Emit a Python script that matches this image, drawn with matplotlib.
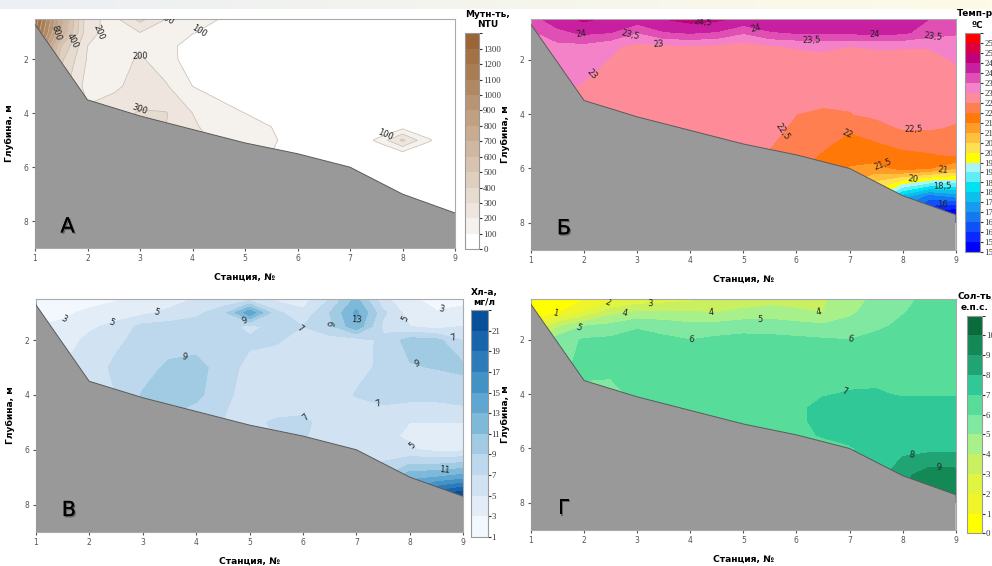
import numpy as np
import matplotlib
matplotlib.use("Agg")
import matplotlib.pyplot as plt
import matplotlib.patheffects as pe
from matplotlib.colors import ListedColormap, BoundaryNorm, LinearSegmentedColormap
from matplotlib.cm import ScalarMappable

# section grid: stations along x, depth (m) down
stations = [1, 1.5, 2, 2.5, 3, 3.5, 4, 4.5, 5, 5.5, 6, 6.5, 7, 7.5, 8, 8.5, 9]
depths = [0.5, 1, 1.5, 2, 3, 4, 4.5, 5, 5.5, 6, 7, 8]

# sea floor
bottom_station = [1, 2, 3, 4, 5, 6, 7, 8, 9]
bottom_depth = [0.7, 3.5, 4.1, 4.6, 5.1, 5.5, 6.0, 7.0, 7.7]

# turbidity, NTU (one row per depth)
turb_by_depth = [
    [1380, 750, 230, 170, 330, 200, 130, 100, 60, 40, 30, 30, 30, 30, 30, 30, 30],
    [1300, 700, 230, 160, 200, 180, 105, 70, 40, 30, 30, 30, 30, 30, 30, 30, 30],
    [1200, 500, 200, 150, 160, 130, 60, 40, 30, 30, 30, 30, 30, 30, 30, 30, 30],
    [1100, 420, 190, 150, 215, 140, 50, 35, 30, 30, 30, 30, 30, 30, 30, 30, 30],
    [1000, 350, 160, 180, 240, 210, 100, 60, 40, 30, 30, 30, 30, 30, 30, 30, 30],
    [900, 300, 220, 260, 310, 305, 200, 140, 100, 60, 40, 30, 30, 30, 30, 30, 30],
    [900, 300, 230, 270, 300, 300, 210, 170, 130, 100, 60, 40, 30, 30, 60, 30, 30],
    [900, 300, 230, 270, 300, 280, 220, 190, 150, 110, 70, 30, 20, 110, 320, 110, 20],
    [900, 300, 230, 270, 300, 280, 220, 190, 140, 100, 80, 30, 20, 30, 60, 30, 20],
    [900, 300, 230, 270, 300, 280, 220, 190, 140, 100, 70, 30, 20, 20, 30, 20, 20],
    [900, 300, 230, 270, 300, 280, 220, 190, 140, 100, 70, 30, 20, 20, 30, 20, 20],
    [900, 300, 230, 270, 300, 280, 220, 190, 140, 100, 70, 30, 20, 20, 30, 20, 20],
]

# temperature, deg C (one profile per station)
temp_by_station = [
    [23.8, 23.4, 23.2, 23.1, 23.0, 23.0, 23.0, 23.0, 23.0, 23.0, 23.0, 23.0],
    [24.3, 23.85, 23.35, 23.25, 23.1, 23.1, 23.1, 23.1, 23.1, 23.1, 23.1, 23.1],
    [24.6, 24.1, 23.35, 23.2, 22.95, 22.9, 22.9, 22.9, 22.9, 22.9, 22.9, 22.9],
    [24.4, 24.0, 23.1, 22.97, 22.85, 22.8, 22.8, 22.8, 22.8, 22.8, 22.8, 22.8],
    [24.3, 23.5, 22.85, 22.8, 22.75, 22.7, 22.7, 22.7, 22.7, 22.7, 22.7, 22.7],
    [24.5, 23.95, 22.9, 22.8, 22.75, 22.7, 22.7, 22.7, 22.7, 22.7, 22.7, 22.7],
    [24.7, 24.05, 22.95, 22.8, 22.75, 22.7, 22.7, 22.7, 22.7, 22.7, 22.7, 22.7],
    [24.6, 23.95, 22.9, 22.8, 22.75, 22.7, 22.7, 22.7, 22.7, 22.7, 22.7, 22.7],
    [24.4, 23.55, 22.75, 22.75, 22.7, 22.7, 22.7, 22.65, 22.6, 22.6, 22.6, 22.6],
    [24.4, 23.95, 22.95, 22.8, 22.75, 22.7, 22.65, 22.55, 22.45, 22.4, 22.4, 22.4],
    [24.4, 24.05, 23.05, 22.8, 22.7, 22.5, 22.4, 22.3, 22.2, 22.1, 22.0, 22.0],
    [24.4, 24.1, 23.1, 22.85, 22.65, 22.45, 22.3, 22.1, 21.95, 21.8, 21.5, 21.3],
    [24.4, 24.1, 23.0, 22.85, 22.65, 22.48, 22.05, 21.9, 21.7, 21.45, 20.5, 20.0],
    [24.4, 24.15, 23.05, 22.85, 22.65, 22.6, 22.3, 22.0, 21.75, 21.3, 19.5, 18.0],
    [24.4, 24.1, 23.05, 22.8, 22.65, 22.6, 22.55, 22.15, 21.9, 21.65, 17.8, 16.0],
    [24.0, 23.75, 23.05, 22.8, 22.65, 22.6, 22.55, 22.25, 21.95, 21.5, 16.8, 14.5],
    [23.8, 23.55, 23.25, 23.05, 22.75, 22.6, 22.45, 22.2, 22.05, 21.0, 17.2, 13.6],
]

# chlorophyll a, mg/l (one row per depth)
chl_by_depth = [
    [1.5, 1.8, 2.0, 2.8, 3.5, 4.0, 5.2, 5.8, 6.0, 4.5, 4.0, 7.0, 11.5, 5.5, 3.5, 2.0, 2.5],
    [2.0, 2.5, 3.5, 4.0, 4.5, 5.5, 6.5, 8.0, 14.5, 7.5, 5.5, 9.0, 13.5, 7.5, 4.0, 3.2, 3.5],
    [3.0, 3.5, 4.6, 5.6, 7.6, 7.8, 8.0, 7.8, 6.5, 7.5, 7.0, 8.5, 12.5, 6.5, 5.0, 4.0, 5.0],
    [4.0, 4.0, 5.5, 6.5, 7.8, 7.8, 7.8, 7.8, 7.3, 7.2, 6.3, 6.2, 6.0, 7.5, 9.8, 9.6, 6.8],
    [5.0, 5.0, 5.8, 7.5, 8.0, 9.5, 10.0, 7.8, 6.5, 6.0, 5.8, 6.0, 6.2, 7.5, 8.8, 9.1, 9.5],
    [5.0, 5.0, 5.5, 7.0, 9.2, 10.0, 9.6, 7.5, 6.2, 5.8, 5.5, 5.5, 7.2, 7.5, 7.5, 7.5, 7.6],
    [5.0, 5.0, 5.5, 7.0, 9.0, 9.5, 8.5, 7.2, 6.0, 6.3, 6.5, 5.5, 6.0, 6.8, 6.5, 6.5, 6.8],
    [5.0, 5.0, 5.5, 7.0, 9.0, 9.0, 8.0, 7.0, 6.5, 7.3, 7.5, 6.0, 5.5, 5.5, 5.0, 5.0, 5.0],
    [5.0, 5.0, 5.5, 7.0, 9.0, 9.0, 8.0, 7.0, 6.5, 7.0, 7.2, 6.0, 5.5, 5.3, 4.8, 4.2, 4.2],
    [5.0, 5.0, 5.5, 7.0, 9.0, 9.0, 8.0, 7.0, 6.5, 7.0, 7.0, 6.0, 6.0, 5.5, 5.2, 4.5, 4.6],
    [5.0, 5.0, 5.5, 7.0, 9.0, 9.0, 8.0, 7.0, 6.5, 7.0, 7.0, 6.5, 7.0, 9.0, 12.5, 13.0, 14.0],
    [5.0, 5.0, 5.5, 7.0, 9.0, 9.0, 8.0, 7.0, 6.5, 7.0, 7.0, 7.0, 8.0, 12.0, 18.0, 25.0, 28.0],
]

# salinity, psu (one profile per station)
sal_by_station = [
    [0.3, 0.5, 1.5, 3.0, 4.0, 5.0, 5.0, 5.0, 5.0, 5.0, 5.0, 5.0],
    [0.4, 0.9, 3.8, 5.5, 5.8, 5.8, 5.8, 5.8, 5.8, 5.8, 5.8, 5.8],
    [0.95, 2.2, 5.0, 6.1, 6.2, 5.8, 5.8, 5.8, 5.8, 5.8, 5.8, 5.8],
    [1.6, 3.6, 5.3, 6.2, 6.3, 5.6, 5.6, 5.6, 5.6, 5.6, 5.6, 5.6],
    [2.2, 4.2, 5.9, 6.3, 6.4, 6.3, 6.3, 6.3, 6.3, 6.3, 6.3, 6.3],
    [2.5, 4.2, 5.6, 6.2, 6.5, 6.5, 6.5, 6.5, 6.5, 6.5, 6.5, 6.5],
    [2.8, 4.1, 5.3, 6.0, 6.5, 6.6, 6.6, 6.6, 6.6, 6.6, 6.6, 6.6],
    [3.0, 4.0, 5.4, 6.2, 6.5, 6.6, 6.6, 6.6, 6.6, 6.6, 6.6, 6.6],
    [3.3, 4.3, 5.6, 6.3, 6.5, 6.6, 6.6, 6.6, 6.6, 6.6, 6.6, 6.6],
    [3.5, 4.5, 5.5, 6.3, 6.5, 6.7, 6.7, 6.7, 6.7, 6.7, 6.7, 6.7],
    [3.6, 4.2, 5.4, 6.2, 6.5, 6.8, 6.85, 6.85, 6.85, 6.85, 6.85, 6.85],
    [3.9, 4.0, 5.2, 6.1, 6.6, 6.95, 7.2, 7.2, 7.05, 6.8, 6.8, 6.8],
    [4.4, 4.8, 5.4, 6.0, 6.7, 7.05, 7.3, 7.4, 7.3, 6.9, 6.9, 6.9],
    [5.3, 5.5, 5.8, 6.3, 6.8, 7.05, 7.3, 7.4, 7.5, 7.4, 7.6, 7.6],
    [5.8, 5.95, 6.2, 6.5, 6.8, 6.95, 7.2, 7.4, 7.5, 7.7, 8.7, 9.0],
    [6.2, 6.3, 6.4, 6.6, 6.8, 6.95, 7.2, 7.4, 7.6, 7.7, 9.6, 9.8],
    [6.3, 6.4, 6.5, 6.6, 6.8, 6.95, 7.2, 7.4, 7.6, 7.7, 9.5, 9.9],
]

turb_levels = list(range(0, 1401, 100))
temp_levels = [15, 15.5, 16, 16.5, 17, 17.5, 18, 18.5, 19, 19.5, 20, 20.5, 21,
               21.5, 22, 22.5, 23, 23.5, 24, 24.5, 25, 25.5, 26]
chl_levels = list(range(1, 24, 2))
sal_levels = list(range(0, 12))

# contour labels: (level, station, depth)
turb_marks = [(800, 1.38, 1.0), (400, 1.7, 1.3), (200, 2.2, 1.0), (200, 3.6, 0.77),
              (100, 4.1, 0.9), (200, 3.0, 1.85), (300, 3.0, 3.8), (100, 7.67, 4.78)]
temp_marks = [(24, 1.95, 1.08), (23.5, 2.83, 0.83), (24.5, 4.25, 0.71), (24, 5.25, 0.75),
              (23.5, 6.29, 1.2), (24, 7.48, 0.98), (23.5, 8.58, 1.2), (23, 3.4, 1.33),
              (23, 2.08, 2.43), (22.5, 5.79, 4.69), (22, 6.95, 4.7), (22.5, 8.2, 4.67),
              (21.5, 7.67, 5.68), (21, 8.77, 6.1), (20, 8.2, 6.4), (18.5, 8.74, 6.6),
              (16, 8.74, 7.2)]
chl_marks = [(3, 1.58, 1.39), (5, 2.42, 1.39), (5, 3.26, 1.03), (9, 4.91, 1.29),
             (7, 5.92, 1.54), (9, 6.52, 1.43), (13, 6.99, 1.27), (5, 7.78, 1.33),
             (3, 8.6, 0.9), (7, 8.75, 2.25), (9, 3.81, 2.77), (9, 8.13, 2.9),
             (7, 7.38, 4.5), (7, 5.97, 4.98), (5, 8.25, 5.5), (11, 8.66, 6.83)]
sal_marks = [(1, 1.45, 1.02), (2, 2.46, 0.74), (3, 3.25, 0.75), (4, 2.76, 1.02),
             (4, 4.39, 1.05), (4, 6.41, 1.05), (5, 1.92, 1.63), (5, 5.31, 1.24),
             (6, 4.03, 2.04), (6, 7.02, 2.02), (7, 6.92, 4.0), (8, 8.16, 6.23),
             (9, 8.69, 6.79)]

# colours
brown = LinearSegmentedColormap.from_list("br", ["#f5f2ed", "#9b6535"])
turb_colors = ["#ffffff"] + [brown(v) for v in np.linspace(0, 1, 13)]
temp_colors = ["#0000ff", "#0a28ff", "#0f50f8", "#1478f0", "#169cee", "#0cc0ee",
               "#00e2f2", "#60eef6", "#a8f6fa", "#ffff00", "#ffe050", "#ffc03c",
               "#ff9c28", "#ff7808", "#ff7f50", "#fe8c98", "#f482c8", "#e04fb4",
               "#c81ea0", "#c0007a", "#dc0040", "#ff0000"]
chl_colors = [plt.cm.Blues(v) for v in np.linspace(0.02, 0.88, 11)]
sal_colors = ["#ffff00", "#f0f52a", "#e0f540", "#c8f060", "#a8f08a", "#80e8a0",
              "#58dc9a", "#30c896", "#20a474", "#138a55", "#0b6b3c"]


def comma(v):
    return f"{v:g}".replace(".", ",")


def plain(v):
    return f"{v:g}"


W, H = 992, 566
fig = plt.figure(figsize=(W / 100, H / 100), dpi=100)

# faint band along the top edge of the screenshot
hdr = fig.add_axes([0, 1 - 9 / H, 1, 9 / H])
hdr.imshow(np.linspace(0, 1, 256).reshape(1, -1), aspect="auto",
           cmap=LinearSegmentedColormap.from_list("hd", ["#eceff4", "#fdfbe7"]))
hdr.axis("off")


def px_axes(x0, y0, x1, y1):
    return fig.add_axes([x0 / W, 1 - y1 / H, (x1 - x0) / W, (y1 - y0) / H])


def section(ax, cax, Z, levels, colors, marks, fmt, letter, line_color=None):
    X, Y = np.meshgrid(stations, depths)
    ax.contourf(X, Y, Z, levels=levels, colors=[colors[0]] + colors + [colors[-1]],
                extend="both", zorder=1)
    if line_color:
        ax.contour(X, Y, Z, levels=levels, colors=line_color, linewidths=0.5, zorder=1.5)
    # labels: one invisible contour set per labelled level
    for lev in sorted(set(m[0] for m in marks)):
        pts = [(m[1], m[2]) for m in marks if m[0] == lev]
        cs = ax.contour(X, Y, Z, levels=[lev], colors="none", linewidths=0, zorder=1.6)
        ax.clabel(cs, manual=pts, fmt=fmt, fontsize=6, colors="#222222",
                  inline=True, inline_spacing=2)

    ax.fill_between(bottom_station, bottom_depth, 9.5, facecolor="#999999",
                    edgecolor="none", zorder=4)
    ax.plot(bottom_station, bottom_depth, color="#5a5a5a", lw=0.7, zorder=4.1)

    ax.set_xlim(1, 9)
    ax.set_ylim(9, 0.5)
    ax.set_xticks(range(1, 10))
    ax.set_yticks([2, 4, 6, 8])
    ax.tick_params(labelsize=5.5, length=2.5, pad=2, colors="#555555")
    for s in ax.spines.values():
        s.set_color("#aaaaaa")
        s.set_linewidth(0.8)
    ax.set_xlabel("Станция, №", fontsize=6.6, fontweight="bold", labelpad=7)
    ax.set_ylabel("Глубина, м", fontsize=6.6, fontweight="bold", labelpad=7)
    ax.text(1.62, 8.2, letter, fontsize=15, ha="center", va="center", zorder=6,
            path_effects=[pe.withSimplePatchShadow(offset=(1, -1), alpha=0.35),
                          pe.Normal()])

    sm = ScalarMappable(norm=BoundaryNorm(levels, len(colors)), cmap=ListedColormap(colors))
    cb = fig.colorbar(sm, cax=cax, ticks=levels[:-1])
    cb.ax.set_yticklabels([fmt(v) for v in levels[:-1]], fontfamily="Liberation Serif")
    cb.ax.tick_params(labelsize=6.3, length=2, pad=1, colors="#333333")
    cb.outline.set_edgecolor("#999999")
    cb.outline.set_linewidth(0.8)


def title(x, y, s, ha="center"):
    fig.text(x / W, 1 - y / H, s, fontsize=6.5, fontweight="bold", ha=ha, va="center",
             linespacing=1.05)


# А - turbidity
axA = px_axes(35, 19, 455, 248)
caxA = px_axes(464.5, 33.3, 479, 249.3)
section(axA, caxA, np.array(turb_by_depth), turb_levels, turb_colors, turb_marks,
        plain, "А", line_color="#c9bfb5")
title(488, 19.5, "Мутн-ть,\nNTU")

# Б - temperature
axB = px_axes(531, 19, 955.7, 250)
caxB = px_axes(965, 33.3, 980, 252)
section(axB, caxB, np.array(temp_by_station).T, temp_levels, temp_colors, temp_marks,
        comma, "Б")
title(957, 14, "Темп-ра", ha="left")
title(977, 25, "ºC")

# В - chlorophyll
axC = px_axes(35.7, 299, 463.3, 532)
caxC = px_axes(471, 310, 487.5, 537)
section(axC, caxC, np.array(chl_by_depth), chl_levels, chl_colors, chl_marks, plain, "В")
title(484, 297, "Хл-а,\nмг/л")

# Г - salinity
axD = px_axes(531, 299, 955.7, 530)
caxD = px_axes(967.3, 315.7, 981.7, 533.3)
section(axD, caxD, np.array(sal_by_station).T, sal_levels, sal_colors, sal_marks, plain, "Г")
title(958, 296, "Сол-ть,", ha="left")
title(975, 307, "е.п.с.")

fig.savefig("out.png", dpi=100)
